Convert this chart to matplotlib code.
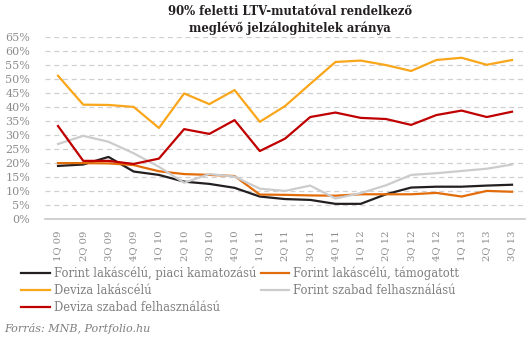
import matplotlib
matplotlib.use('Agg')
import matplotlib.pyplot as plt

# adatok
negyedevek = ['1Q 09', '2Q 09', '3Q 09', '4Q 09', '1Q 10', '2Q 10', '3Q 10', '4Q 10',
              '1Q 11', '2Q 11', '3Q 11', '4Q 11', '1Q 12', '2Q 12', '3Q 12', '4Q 12',
              '1Q 13', '2Q 13', '3Q 13']
forint_piaci = [19.0, 19.5, 22.2, 17.0, 15.8, 13.4, 12.6, 11.2, 8.1, 7.2, 6.9, 5.5,
                5.5, 8.9, 11.3, 11.6, 11.6, 12.0, 12.3]
forint_tamogatott = [20.0, 20.0, 19.9, 19.3, 17.1, 16.1, 15.8, 15.4, 8.8, 8.7, 8.5, 8.4,
                     8.9, 8.9, 8.9, 9.4, 8.1, 10.1, 9.8]
deviza_lakas = [51.1, 40.8, 40.7, 40.0, 32.5, 44.8, 41.0, 46.0, 34.7, 40.3, 48.2, 56.0,
                56.5, 54.9, 52.8, 56.7, 57.5, 55.0, 56.7]
forint_szabad = [26.8, 29.7, 27.6, 23.5, 18.7, 13.0, 16.1, 15.2, 10.9, 10.1, 12.0, 7.4,
                 9.3, 12.1, 15.8, 16.4, 17.2, 18.0, 19.5]
deviza_szabad = [33.2, 20.8, 20.8, 19.7, 21.6, 32.1, 30.4, 35.3, 24.3, 28.7, 36.4, 38.0,
                 36.1, 35.7, 33.6, 37.1, 38.7, 36.4, 38.3]

plt.rcParams['font.family'] = 'DejaVu Serif'
szurke = '#8c8c8c'

fig = plt.figure(figsize=(5.31, 3.42), dpi=100)
ax = fig.add_axes([0.0855, 0.3588, 0.9025, 0.5339])

x = range(len(negyedevek))
l1, = ax.plot(x, forint_piaci, color='#231f20', lw=1.6, label='Forint lakáscélú, piaci kamatozású')
l2, = ax.plot(x, forint_tamogatott, color='#e36c0a', lw=1.6, label='Forint lakáscélú, támogatott')
l3, = ax.plot(x, deviza_lakas, color='#f9a61a', lw=1.6, label='Deviza lakáscélú')
l4, = ax.plot(x, forint_szabad, color='#cccccc', lw=1.6, label='Forint szabad felhasználású')
l5, = ax.plot(x, deviza_szabad, color='#c00000', lw=1.6, label='Deviza szabad felhasználású')

ax.set_xlim(-0.5, len(negyedevek) - 0.5)
ax.set_ylim(0, 65)
ax.set_yticks(range(0, 70, 5))
ax.set_yticklabels([f'{v}%' for v in range(0, 70, 5)], fontsize=8, color=szurke)
ax.set_xticks(list(x))
ax.set_xticklabels(negyedevek, rotation=90, fontsize=7.2, color=szurke)
ax.tick_params(length=0, pad=8)
ax.tick_params(axis='y', pad=11)
ax.grid(axis='y', ls=(0, (4, 3)), color='#d0d0d0', lw=0.9)
ax.set_axisbelow(True)
for s in ['top', 'right', 'left']:
    ax.spines[s].set_visible(False)
ax.spines['bottom'].set_color('#c8c8c8')
ax.spines['bottom'].set_linewidth(1.2)

fig.text(0.546, 0.985, '90% feletti LTV-mutatóval rendelkező\nmeglévő jelzáloghitelek aránya',
         ha='center', va='top', fontsize=8.4, fontweight='bold', color='#231f20',
         linespacing=1.3)

# sorfolytonos sorrend a jelmagyarazatban
leg = fig.legend([l1, l3, l5, l2, l4], [l.get_label() for l in [l1, l3, l5, l2, l4]],
                 loc='upper left', bbox_to_anchor=(0.04, 0.222), ncol=2, frameon=False,
                 fontsize=8.3, handlelength=2.5, handletextpad=0.3, columnspacing=0.4,
                 labelspacing=0.38, borderpad=0, borderaxespad=0)
for t in leg.get_texts():
    t.set_color('#7f7f7f')

fig.text(0.008, 0.04, 'Forrás: MNB, Portfolio.hu', fontsize=8, style='italic', color='#7f7f7f',
         ha='left', va='center')

fig.savefig('out.png', dpi=100)
